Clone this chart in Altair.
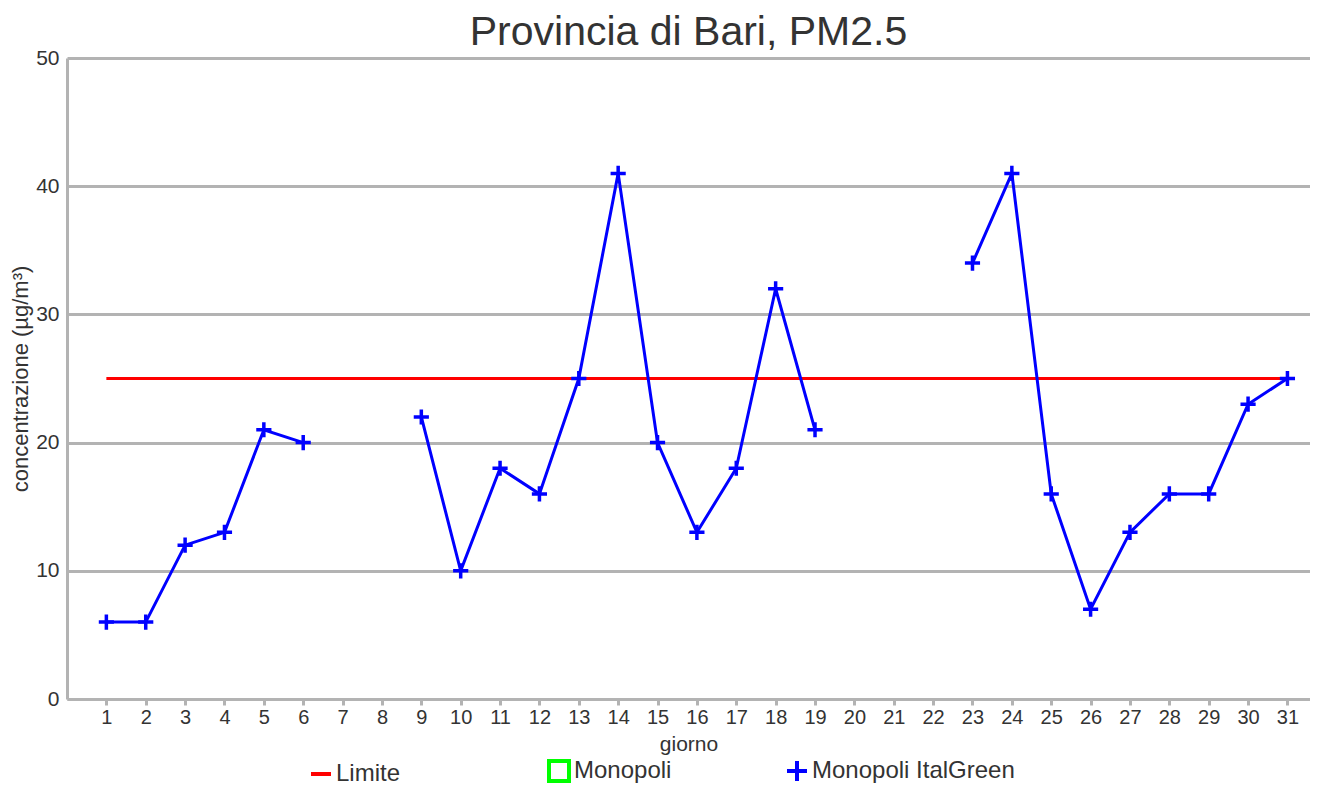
import altair as alt
import pandas as pd

days = list(range(1, 32))
italgreen = [6, 6, 12, 13, 21, 20, None, None, 22, 10, 18, 16, 25, 41, 20, 13, 18,
             32, 21, None, None, None, 34, 41, 16, 7, 13, 16, 16, 23, 25]
limite_days = [1, 31]
limite_values = [25, 25]
series_names = ["Limite", "Monopoli", "Monopoli ItalGreen"]
series_colors = ["#ff0000", "#00ff00", "#0000ff"]
plus_path = "M-1,0L1,0M0,-1L0,1"
series_shapes = ["stroke", "square", plus_path]
y_ticks = [0, 10, 20, 30, 40, 50]

rows = []
for d, v in zip(limite_days, limite_values):
    rows.append({"serie": "Limite", "giorno": d, "valore": v})
for d, v in zip(days, italgreen):
    rows.append({"serie": "Monopoli ItalGreen", "giorno": d, "valore": v})
df = pd.DataFrame(rows)

FONT = "Liberation Sans"
TXT = "#333333"
GRID = "#b3b3b3"

x = alt.X("giorno:Q", title="giorno",
          scale=alt.Scale(domain=[0, 31.573], nice=False, zero=False),
          axis=alt.Axis(values=days, grid=False, tickSize=6, tickWidth=3, tickColor=GRID,
                        domainColor=GRID, domainWidth=3, labelFontSize=20, labelColor=TXT,
                        labelFont=FONT, labelPadding=2, titleFontSize=21, titleFontWeight="normal",
                        titleColor=TXT, titleFont=FONT, titlePadding=6, labelFlush=False))
y = alt.Y("valore:Q", title="concentrazione (µg/m³)",
          scale=alt.Scale(domain=[0, 50], nice=False),
          axis=alt.Axis(values=y_ticks, grid=True, gridColor=GRID, gridWidth=3, ticks=False,
                        domainColor=GRID, domainWidth=3, labelFontSize=21, labelColor=TXT,
                        labelFont=FONT, labelPadding=8, titleFontSize=22, titleFontWeight="normal",
                        titleColor=TXT, titleFont=FONT, titlePadding=3))

legend = alt.Legend(title=None, orient="none", legendX=242, legendY=701,
                    direction="horizontal", columns=3, gridAlign="all",
                    columnPadding=2, labelFontSize=24, labelFont=FONT,
                    labelColor=TXT, symbolSize=400, symbolStrokeWidth=4,
                    labelOffset=3, labelLimit=400)
color = alt.Color("serie:N", scale=alt.Scale(domain=series_names, range=series_colors),
                  legend=legend)
shape = alt.Shape("serie:N", scale=alt.Scale(domain=series_names, range=series_shapes),
                  legend=legend)

lines = alt.Chart(df).mark_line(strokeWidth=3, invalid="break-paths-filter-domains").encode(
    x=x, y=y, color=color, detail="serie:N")

points = alt.Chart(df).transform_filter(
    "datum.serie == 'Monopoli ItalGreen' && isValid(datum.valore)"
).mark_point(filled=False, size=230, strokeWidth=3.5, opacity=1).encode(
    x=x, y=y, color=color, shape=shape)

chart = alt.layer(lines, points).properties(
    width=1243, height=641,
    title=alt.TitleParams("Provincia di Bari, PM2.5", fontSize=41, fontWeight="normal",
                          color=TXT, font=FONT, anchor="middle", offset=-7),
    autosize=alt.AutoSizeParams(type="none"),
    padding={"left": 59, "top": 50, "right": 0, "bottom": 92},
).configure_view(stroke=None)

chart.save("out.html", embed_options={"renderer": "svg", "actions": False})
